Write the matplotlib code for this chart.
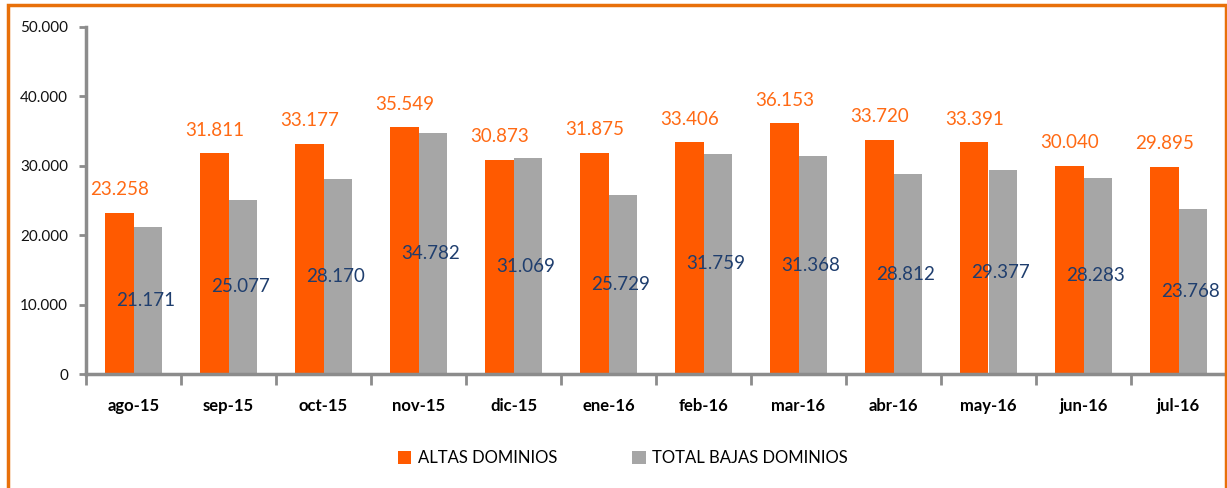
import matplotlib
matplotlib.use("Agg")
import matplotlib.pyplot as plt
import numpy as np
from matplotlib.patches import Rectangle

categories = ["ago-15", "sep-15", "oct-15", "nov-15", "dic-15", "ene-16",
              "feb-16", "mar-16", "abr-16", "may-16", "jun-16", "jul-16"]
altas = [23258, 31811, 33177, 35549, 30873, 31875, 33406, 36153, 33720, 33391, 30040, 29895]
bajas = [21171, 25077, 28170, 34782, 31069, 25729, 31759, 31368, 28812, 29377, 28283, 23768]
yticks = [0, 10000, 20000, 30000, 40000, 50000]

ORANGE = "#FF5A00"
GRAY = "#A6A6A6"
LBL_OR = "#FF6A14"
LBL_BL = "#1F3E6E"

plt.rcParams['font.family'] = ['Lato', 'DejaVu Sans']

fig = plt.figure(figsize=(12.27, 4.88), dpi=100)
ax = fig.add_axes([86/1227, 1-374/488, 1140/1227, (374-27)/488])

def fmt(v):
    return f"{v:,}".replace(",", ".")

x = np.arange(len(categories))
w = 0.295
b1 = ax.bar(x - w/2, altas, w, color=ORANGE, label="ALTAS DOMINIOS", zorder=2)
b2 = ax.bar(x + w/2, bajas, w, color=GRAY, label="TOTAL BAJAS DOMINIOS", zorder=2)

for xi, v in zip(x, altas):
    ax.annotate(fmt(v), (xi - w/2, v), xytext=(0, 23), textcoords="offset pixels",
                ha="center", va="center", color=LBL_OR, fontsize=13.5)
for xi, v in zip(x, bajas):
    ax.text(xi + w/2 - 0.02, v/2, fmt(v), ha="center", va="center",
            color=LBL_BL, fontsize=13.5, zorder=3)

ax.set_xlim(-0.5, len(categories) - 0.5)
ax.set_ylim(0, 50000)
ax.set_yticks(yticks)
ax.set_yticklabels([fmt(t) for t in yticks], fontsize=11, color="#111111")
ax.set_xticks(x)
ax.set_xticklabels(categories, fontsize=12, fontweight="bold")
ax.set_xticks(np.arange(len(categories) + 1) - 0.5, minor=True)
ax.tick_params(axis="x", which="major", length=0, pad=17)
ax.tick_params(axis="x", which="minor", length=8, width=2, color="#8C8C8C")
ax.tick_params(axis="y", length=5, width=2, color="#8C8C8C", pad=8)
for s in ["top", "right"]:
    ax.spines[s].set_visible(False)
for s in ["left", "bottom"]:
    ax.spines[s].set_color("#8C8C8C")
    ax.spines[s].set_linewidth(2.5)

leg = fig.legend(loc="center", bbox_to_anchor=(623/1227, 1-458/488), ncol=2,
                 frameon=False, fontsize=12, handlelength=0.8, handleheight=0.8,
                 handletextpad=0.4, columnspacing=4.5)

# orange frame
fig.add_artist(Rectangle((7.5/1227, -0.05), (1226-7.5)/1227, 1.05 - 5.5/488,
                         transform=fig.transFigure, fill=False,
                         edgecolor="#E8700A", linewidth=2.5))

fig.savefig("out.png", dpi=100)
